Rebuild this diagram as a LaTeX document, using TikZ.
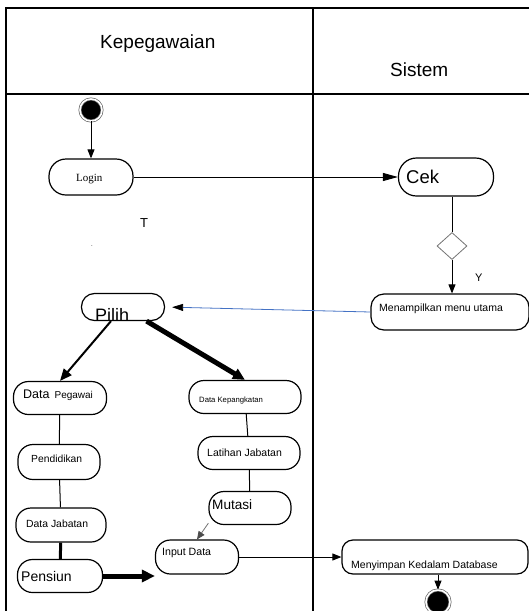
\documentclass[tikz,border=0pt]{standalone}
\usepackage{fontspec}
\setmainfont{Liberation Sans}
\newfontfamily\serifface{Liberation Serif}
\usetikzlibrary{arrows.meta,shapes.geometric}
\definecolor{linkblue}{RGB}{68,114,196}

\begin{document}
\begin{tikzpicture}
  [x=1pt,y=-1pt,
   act/.style={draw,rounded corners=15pt,line width=1.2pt,inner sep=0pt},
   lbl/.style={anchor=base west,inner sep=0pt},
   startdot/.style={circle,fill=black,draw=black!60,double=white,double distance=1.6pt,
     line width=0.7pt,minimum size=22pt,inner sep=0pt},
   flow/.style={-{Triangle[length=9pt,width=7pt]},line width=0.9pt}]
  \useasboundingbox (0,0) rectangle (529,611);
  % swimlanes
  \draw[line width=2pt] (529,8) -- (6,8) -- (6,611);
  \draw[line width=2pt] (6,94) -- (529,94);
  \draw[line width=2pt] (313,8) -- (313,611);
  \node[lbl,font=\fontsize{19}{22}\selectfont] (lane1) at (100,48) {Kepegawaian};
  \node[lbl,font=\fontsize{19}{22}\selectfont] (lane2) at (390,76) {Sistem};

  % activities
  \node[startdot] (start) at (91,110) {};
  \node[act,rounded corners=17pt,minimum width=84pt,minimum height=36pt] (login) at (91,177) {};
  \node[act,rounded corners=18pt,minimum width=95pt,minimum height=38pt] (cek) at (446,177) {};
  \node[diamond,draw=black!55,line width=0.8pt,minimum width=30pt,minimum height=27pt,inner sep=0pt] (cond) at (452,246) {};
  \node[act,rounded corners=13pt,minimum width=158pt,minimum height=36pt] (menu) at (450,312) {};
  \node[act,rounded corners=13pt,minimum width=83pt,minimum height=27pt] (pilih) at (123,307) {};
  \node[act,minimum width=93pt,minimum height=33pt] (dpeg) at (60,398) {};
  \node[act,minimum width=82pt,minimum height=35pt] (pend) at (59,462) {};
  \node[act,minimum width=90pt,minimum height=34pt] (djab) at (61,525) {};
  \node[act,minimum width=85pt,minimum height=33pt] (pens) at (60,576) {};
  \node[act,minimum width=112pt,minimum height=33pt] (dkep) at (245,397) {};
  \node[act,minimum width=102pt,minimum height=33pt] (lat) at (249,453) {};
  \node[act,minimum width=82pt,minimum height=33pt] (mut) at (250,508) {};
  \node[act,minimum width=83pt,minimum height=34pt] (inp) at (197,557) {};
  \node[act,rounded corners=11pt,minimum width=186pt,minimum height=34pt] (simp) at (435,557) {};
  \node[startdot,minimum size=24pt] (stop) at (438,602) {};

  % labels
  \node[lbl,font=\serifface\fontsize{11}{13}\selectfont] (tlogin) at (76,181) {Login};
  \node[lbl,font=\fontsize{18.5}{22}\selectfont] (tcek) at (406,183) {Cek};
  \node[lbl,font=\fontsize{13}{15}\selectfont] (tno) at (140,227) {T};
  \node[lbl,font=\fontsize{6}{7}\selectfont] (tdot) at (91,246) {.};
  \node[lbl,font=\fontsize{11}{13}\selectfont] (tyes) at (475,281) {Y};
  \node[lbl,font=\fontsize{10.5}{12}\selectfont] (tmenu) at (379,311) {Menampilkan menu utama};
  \node[lbl,font=\fontsize{18}{21}\selectfont] (tpilih) at (95,321) {Pilih};
  \node[lbl,font=\fontsize{10}{12}\selectfont] (tdpeg) at (23,398)
    {{\fontsize{12.5}{15}\selectfont Data}\hspace{5pt}Pegawai};
  \node[lbl,font=\fontsize{7.7}{9}\selectfont] (tdkep) at (199,402) {Data Kepangkatan};
  \node[lbl,font=\fontsize{10.3}{12}\selectfont] (tpend) at (31,462) {Pendidikan};
  \node[lbl,font=\fontsize{10.5}{12}\selectfont] (tlat) at (207,456) {Latihan Jabatan};
  \node[lbl,font=\fontsize{10.4}{12}\selectfont] (tdjab) at (26,527) {Data Jabatan};
  \node[lbl,font=\fontsize{13.6}{16}\selectfont] (tmut) at (212,509) {Mutasi};
  \node[lbl,font=\fontsize{14}{16}\selectfont] (tpens) at (21,581) {Pensiun};
  \node[lbl,font=\fontsize{10.6}{12}\selectfont] (tinp) at (162,555) {Input Data};
  \node[lbl,font=\fontsize{10.5}{12}\selectfont] (tsimp) at (351,568) {Menyimpan Kedalam Database};

  % flows
  \draw[flow] (start) -- (login);
  \draw[-{Triangle[length=15pt,width=8pt]},line width=0.9pt] (login) -- (cek);
  \draw[line width=0.8pt] (cond.north |- cek.south) -- (cond.north);
  \draw[flow] (cond.south) -- (cond.south |- menu.north);
  \draw[linkblue,line width=0.8pt,shorten >=7pt,-{Triangle[length=11pt,width=7pt,color=black]}]
    (menu.west) -- (pilih.east);
  \draw[line width=2pt,-{Triangle[length=12pt,width=10pt]}] (pilih) -- (dpeg.north);
  \draw[line width=5pt,-{Triangle[length=12pt,width=11pt]}] (pilih) -- (dkep.north);
  \foreach \from/\to in {dpeg/pend,pend/djab,dkep/lat,lat/mut}
    \draw[line width=1pt] (\from) -- (\to);
  \draw[line width=3pt] (djab) -- (pens);
  \draw[line width=5pt,-{Triangle[length=13pt,width=12pt]}] (pens.east) -- (pens.east -| inp.west);
  \draw[black!55,line width=0.8pt,-{Triangle[length=8pt,width=7pt,color=black!70]}] (mut.200) -- (inp.north);
  \draw[flow] (inp.east) -- (simp.west);
  \draw[flow] (stop.north |- simp.south) -- (stop);
\end{tikzpicture}
\end{document}
